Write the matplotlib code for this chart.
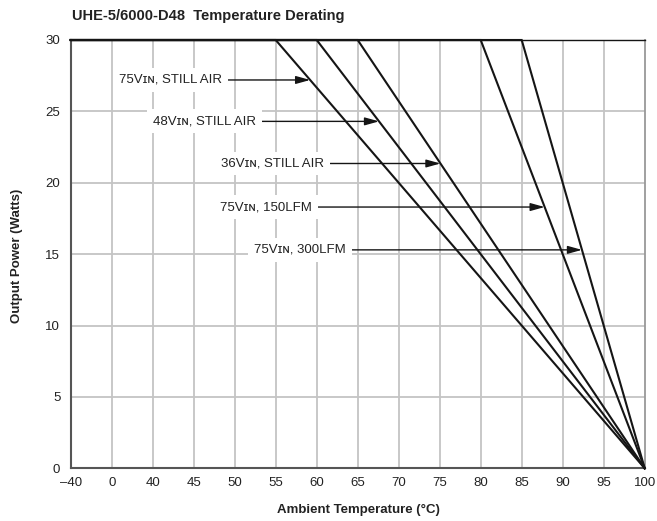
import numpy as np
import matplotlib
matplotlib.use("Agg")
import matplotlib.pyplot as plt

# ---- data ----
x_ticks = [-40, 0, 40, 45, 50, 55, 60, 65, 70, 75, 80, 85, 90, 95, 100]
y_ticks = [0, 5, 10, 15, 20, 25, 30]
labels = ["75V\u026a\u0274, STILL AIR", "48V\u026a\u0274, STILL AIR", "36V\u026a\u0274, STILL AIR",
          "75V\u026a\u0274, 150LFM", "75V\u026a\u0274, 300LFM"]
derate_start = [55, 60, 65, 80, 85]      # temperature where derating begins (°C)
max_power = 30
zero_power_temp = 100
min_temp = -40
arrow_level = [27.2, 24.3, 21.35, 18.3, 15.3]   # power level of each label arrow
label_x = [42.2, 46.35, 54.65, 53.85, 57.95]     # label centre temperature

FONT = ["Liberation Sans", "DejaVu Sans"]
plt.rcParams['font.family'] = FONT

# piecewise axis: -40 .. 0 .. 40 then 5 degree steps
xp = [-40, 0, 40, 100]
fp = [0, 1, 2, 14]
def fwd(x):
    return np.interp(x, xp, fp)
def inv(x):
    return np.interp(x, fp, xp)

fig = plt.figure(figsize=(6.57, 5.21), dpi=100)
ax = fig.add_axes([70.7/657, 1-468.3/521, (644.7-70.7)/657, (468.3-40)/521])
ax.set_xscale('function', functions=(fwd, inv))
ax.set_xlim(-40, 100)
ax.set_ylim(0, 30)

grid_c = '#c4c4c4'
for t in x_ticks[1:-1]:
    ax.axvline(t, color=grid_c, lw=1.3, zorder=1)
for p in y_ticks[1:-1]:
    ax.axhline(p, color=grid_c, lw=1.3, zorder=1)

for t0 in derate_start:
    ax.plot([min_temp, t0, zero_power_temp], [max_power, max_power, 0],
            color='#151515', lw=1.5, zorder=3, solid_joinstyle='miter', clip_on=False)

for lab, lvl, tx, t0 in zip(labels, arrow_level, label_x, derate_start):
    tip = zero_power_temp - lvl * (zero_power_temp - t0) / max_power
    ax.annotate(lab, xy=(tip, lvl), xytext=(tx, lvl), ha='center', va='center',
                fontsize=9.5, color='#222222', zorder=5,
                bbox=dict(boxstyle='square,pad=0.45', fc='white', ec='none'),
                arrowprops=dict(arrowstyle='-|>,head_length=0.9,head_width=0.25',
                                color='#151515', lw=1.0, shrinkA=0, shrinkB=0))

ax.set_xticks(x_ticks)
ax.set_xticklabels([str(t).replace('-', '\u2013') for t in x_ticks])
ax.xaxis.set_minor_locator(matplotlib.ticker.NullLocator())
ax.set_yticks(y_ticks)
ax.tick_params(axis='both', length=0, labelsize=9.5, colors='#222222')
ax.tick_params(axis='x', pad=6)
ax.tick_params(axis='y', pad=7.5)

for s in ['left', 'bottom']:
    ax.spines[s].set_color('#555555')
    ax.spines[s].set_linewidth(1.5)
ax.spines['top'].set_color('#151515')
ax.spines['top'].set_linewidth(1.0)
ax.spines['right'].set_color('#999999')
ax.spines['right'].set_linewidth(1.3)

fig.text(72/657, 1-16/521, "UHE-5/6000-D48  Temperature Derating", ha='left', va='center',
         fontsize=10.5, fontweight='bold', color='#222222')
fig.text(16.7/657, 1-256/521, "Output Power (Watts)", rotation=90, ha='center', va='center',
         fontsize=9.5, fontweight='bold', color='#222222')
fig.text(358/657, 1-510/521, "Ambient Temperature (\u00b0C)", ha='center', va='center',
         fontsize=9.5, fontweight='bold', color='#222222')

fig.savefig("out.png", dpi=100)
